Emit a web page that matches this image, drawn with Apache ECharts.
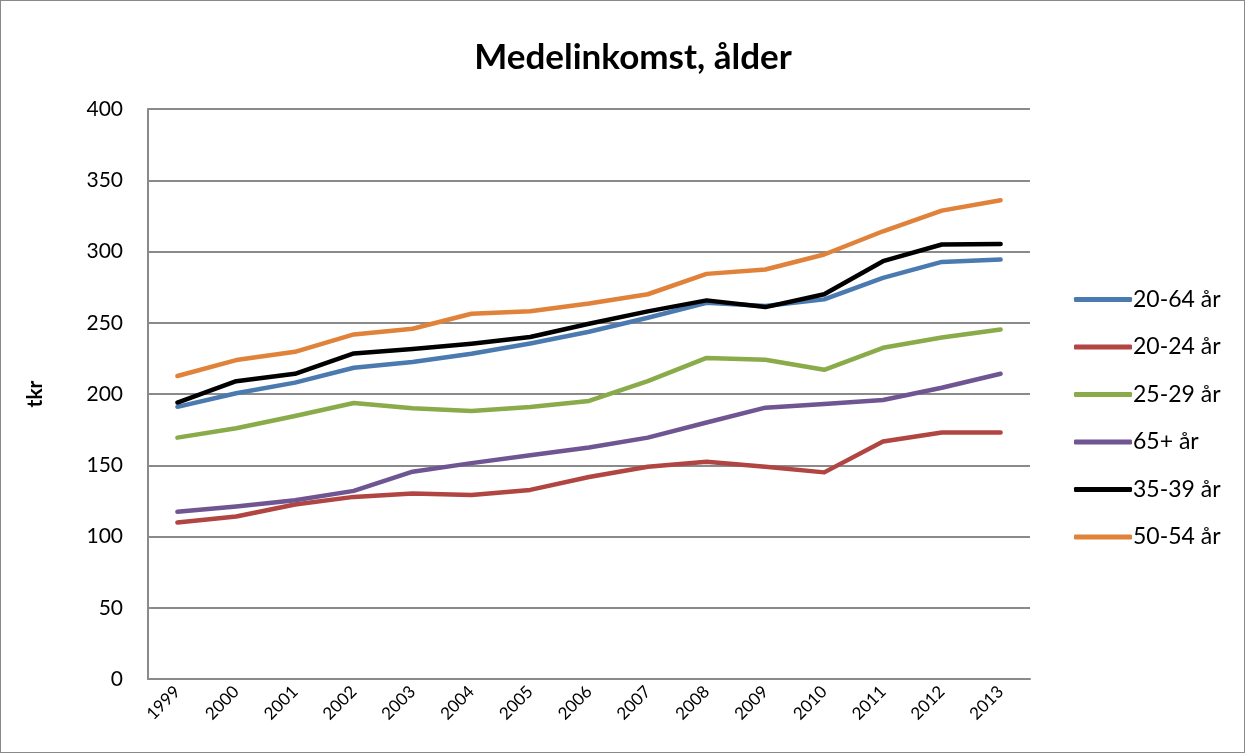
<!DOCTYPE html>
<html>
<head>
<meta charset="utf-8">
<script src="https://cdn.jsdelivr.net/npm/echarts@6/dist/echarts.min.js"></script>
<style>
  html, body { margin: 0; padding: 0; background: #fff; }
  #chart {
    width: 1243px;
    height: 751px;
    border: 1px solid #8a8a8a;
  }
</style>
</head>
<body>
<div id="chart"></div>
<script>
// år
const years = ['1999', '2000', '2001', '2002', '2003', '2004', '2005', '2006', '2007', '2008', '2009', '2010', '2011', '2012', '2013']

// medelinkomst i tkr per åldersgrupp
const age2064 = [191, 200.5, 208, 218.4, 222.4, 228.2, 235.5, 243.7, 253.5, 264, 261.7, 266.4, 281.5, 292.7, 294.4]
const age2024 = [109.8, 114, 122.5, 127.8, 130.1, 129.2, 132.7, 141.8, 149, 152.5, 149, 145, 166.6, 173, 172.9]
const age2529 = [169.4, 176, 184.6, 193.7, 190, 188.1, 190.9, 195.1, 209.1, 225.3, 224, 217, 232.4, 239.7, 245.3]
const age65 = [117.3, 121, 125.5, 132, 145.5, 151.5, 157, 162.4, 169.4, 180, 190.4, 193, 195.8, 204.4, 214.2]
const age3539 = [194, 209, 214.2, 228.5, 231.5, 235.3, 240, 249.3, 258, 265.7, 261, 270, 293.2, 304.9, 305.2]
const age5054 = [212.6, 223.8, 229.6, 241.8, 245.8, 256.3, 258, 263.5, 270, 284.3, 287.4, 297.9, 314.2, 328.7, 336]

const chart = echarts.init(document.getElementById('chart'))

const font = 'Lato, "Open Sans", sans-serif'

const mkSeries = (name, data, color) => ({
  name,
  type: 'line',
  data,
  symbol: 'none',
  smooth: false,
  lineStyle: { width: 4.5, color, cap: 'round', join: 'round' },
  itemStyle: { color }
})

const option = {
  animation: false,
  textStyle: { fontFamily: font },
  title: {
    text: 'Medelinkomst, ålder',
    left: 627,
    textAlign: 'center',
    top: 34,
    textStyle: { fontSize: 35, fontWeight: 'bold', color: '#000', fontFamily: font }
  },
  grid: {
    left: 147,
    right: 214,
    top: 108,
    bottom: 73
  },
  legend: {
    orient: 'vertical',
    left: 1068,
    top: 282,
    itemWidth: 58,
    itemHeight: 5,
    itemGap: 24.5,
    icon: 'roundRect',
    textStyle: { fontSize: 23, color: '#000', fontFamily: font, padding: [0, 0, 0, -4] },
    data: ['20-64 år', '20-24 år', '25-29 år', '65+ år', '35-39 år', '50-54 år']
  },
  xAxis: {
    type: 'category',
    data: years,
    boundaryGap: true,
    axisLine: { lineStyle: { color: '#8a8a8a', width: 2 } },
    axisTick: { show: false },
    axisLabel: {
      rotate: 45,
      fontSize: 17,
      color: '#000',
      margin: 10,
      interval: 0,
      fontFamily: font
    }
  },
  yAxis: {
    type: 'value',
    min: 0,
    max: 400,
    interval: 50,
    name: 'tkr',
    nameLocation: 'middle',
    nameGap: 102,
    nameTextStyle: { fontSize: 21, fontWeight: 'bold', color: '#000', fontFamily: font },
    axisLine: { show: true, lineStyle: { color: '#8a8a8a', width: 2 } },
    axisTick: { show: false },
    axisLabel: { fontSize: 21, color: '#000', margin: 25, fontFamily: font },
    splitLine: { lineStyle: { color: '#8a8a8a', width: 2 } }
  },
  series: [
    mkSeries('20-64 år', age2064, '#4a7ab0'),
    mkSeries('20-24 år', age2024, '#b04542'),
    mkSeries('25-29 år', age2529, '#8aab4a'),
    mkSeries('65+ år', age65, '#6f5592'),
    mkSeries('35-39 år', age3539, '#000000'),
    mkSeries('50-54 år', age5054, '#e0823a')
  ]
}

chart.setOption(option)
</script>
</body>
</html>
